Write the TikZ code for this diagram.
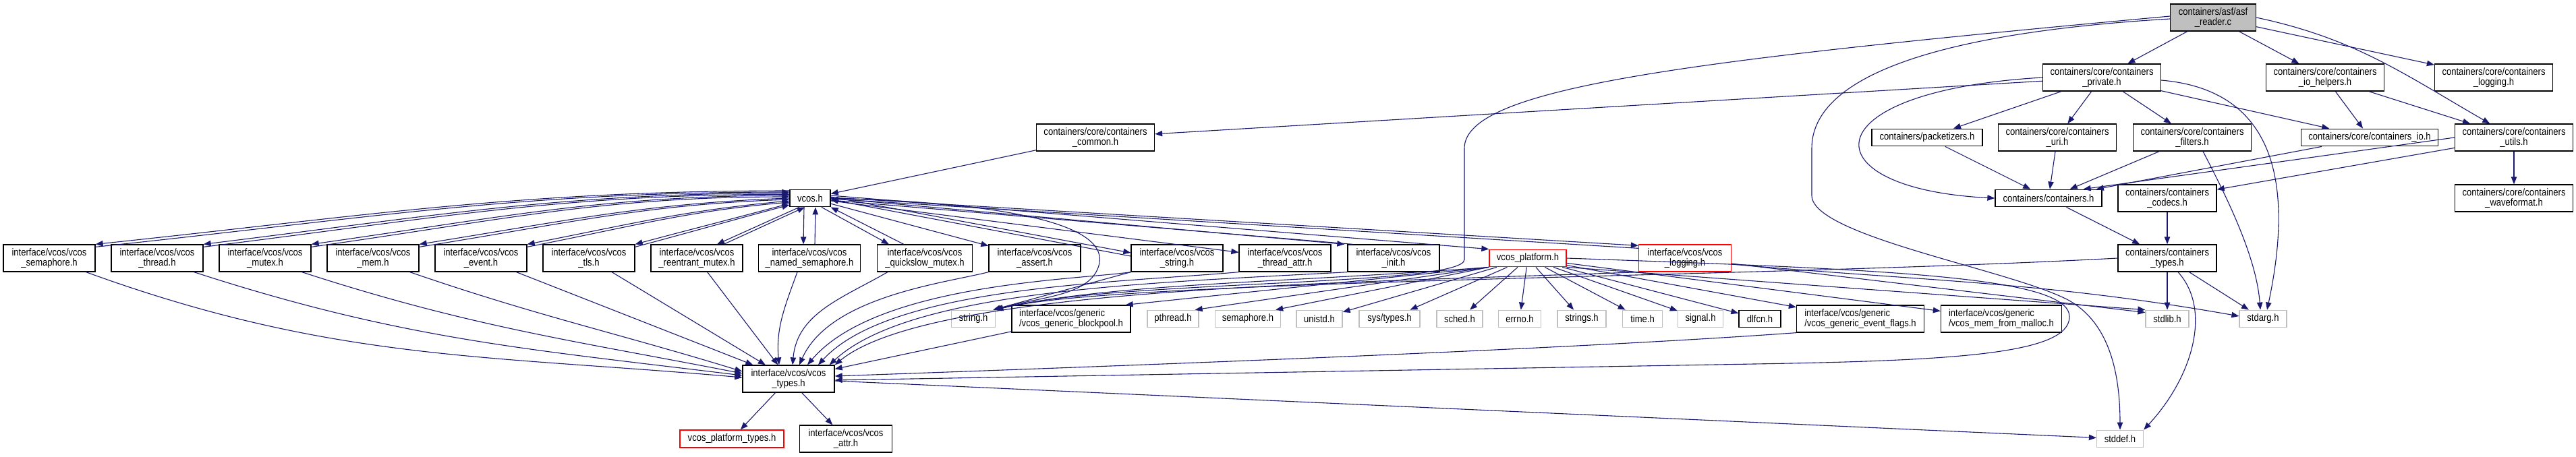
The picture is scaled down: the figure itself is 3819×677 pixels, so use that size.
\documentclass[tikz,border=0pt]{standalone}
\usepackage{fontspec}
\setmainfont{Liberation Sans}[FakeStretch=0.87]
\usepackage{xcolor}
\usetikzlibrary{arrows.meta}
\definecolor{dxblue}{RGB}{25,25,112}
\definecolor{dxgray}{RGB}{191,191,191}

\begin{document}
\begin{tikzpicture}[
        x=0.5pt, y=0.5pt,
        filebox/.style={draw=black, line width=0.65pt, fill=white,
                        font=\fontsize{7.5}{7.5}\selectfont, align=center,
                        inner sep=0pt, minimum height=20pt},
        onebox/.style={filebox, minimum height=12.75pt},
        sysbox/.style={onebox, draw=dxgray},
        redbox/.style={filebox, draw=red},
        rootbox/.style={filebox, fill=dxgray},
        ctr/.style={filebox, minimum width=87.5pt},
        vc/.style={filebox, minimum width=68pt},
        arr/.style={-{Triangle[length=5.5pt,width=4.2pt]}, draw=dxblue, line width=0.55pt}
    ]
        \useasboundingbox (0,0) rectangle (3819,-677);

        % containers
        \node[rootbox, minimum width=63.5pt] (asf) at (3281,-26) {containers/asf/asf\\\_reader.c};
        \node[ctr] (priv)    at (3116,-115) {containers/core/containers\\\_private.h};
        \node[ctr] (iohelp)  at (3447,-115) {containers/core/containers\\\_io\_helpers.h};
        \node[ctr] (clog)    at (3697,-115) {containers/core/containers\\\_logging.h};
        \node[ctr] (common)  at (1624,-204) {containers/core/containers\\\_common.h};
        \node[onebox, minimum width=82pt] (packet) at (2857,-204) {containers/packetizers.h};
        \node[ctr] (uri)     at (3050,-204) {containers/core/containers\\\_uri.h};
        \node[ctr] (filters) at (3250,-204) {containers/core/containers\\\_filters.h};
        \node[onebox, minimum width=101.5pt] (cio) at (3513,-204) {containers/core/containers\_io.h};
        \node[ctr] (utils)   at (3727,-204) {containers/core/containers\\\_utils.h};
        \node[onebox, minimum width=30pt] (vcos) at (1201,-294) {vcos.h};
        \node[onebox, minimum width=79pt] (cont) at (3037,-294) {containers/containers.h};
        \node[filebox, minimum width=73pt] (codecs) at (3213,-294) {containers/containers\\\_codecs.h};
        \node[ctr] (wave)    at (3727,-294) {containers/core/containers\\\_waveformat.h};

        % vcos headers
        \node[vc] (sem)     at (73,-383)   {interface/vcos/vcos\\\_semaphore.h};
        \node[vc] (thread)  at (233,-383)  {interface/vcos/vcos\\\_thread.h};
        \node[vc] (mutex)   at (393,-383)  {interface/vcos/vcos\\\_mutex.h};
        \node[vc] (mem)     at (553,-383)  {interface/vcos/vcos\\\_mem.h};
        \node[vc] (event)   at (713,-383)  {interface/vcos/vcos\\\_event.h};
        \node[vc] (tls)     at (873,-383)  {interface/vcos/vcos\\\_tls.h};
        \node[vc] (reent)   at (1033,-383) {interface/vcos/vcos\\\_reentrant\_mutex.h};
        \node[vc, minimum width=75.5pt] (namedsem) at (1200,-383) {interface/vcos/vcos\\\_named\_semaphore.h};
        \node[vc, minimum width=70.5pt] (qsmutex)  at (1371,-383) {interface/vcos/vcos\\\_quickslow\_mutex.h};
        \node[vc] (assert)  at (1534,-383) {interface/vcos/vcos\\\_assert.h};
        \node[vc] (vstring) at (1745,-383) {interface/vcos/vcos\\\_string.h};
        \node[vc] (thrattr) at (1905,-383) {interface/vcos/vcos\\\_thread\_attr.h};
        \node[vc] (init)    at (2066,-383) {interface/vcos/vcos\\\_init.h};
        \node[redbox, minimum height=12.75pt, minimum width=57pt] (vplat) at (2265,-383) {vcos\_platform.h};
        \node[redbox, minimum width=68.5pt] (vlog) at (2498,-383) {interface/vcos/vcos\\\_logging.h};
        \node[filebox, minimum width=73pt] (ctypes) at (3213,-383) {containers/containers\\\_types.h};

        % system headers
        \node[sysbox, minimum width=32.5pt] (stringh) at (1443,-473) {string.h};
        \node[filebox, minimum width=88pt, align=left] (blockpool) at (1588,-473) {interface/vcos/generic\\/vcos\_generic\_blockpool.h};
        \node[sysbox, minimum width=38pt]   (pthread)  at (1739,-473) {pthread.h};
        \node[sysbox, minimum width=48.5pt] (semh)     at (1850,-473) {semaphore.h};
        \node[sysbox, minimum width=34pt]   (unistd)   at (1956,-473) {unistd.h};
        \node[sysbox, minimum width=45pt]   (systypes) at (2060,-473) {sys/types.h};
        \node[sysbox, minimum width=34pt]   (sched)    at (2164,-473) {sched.h};
        \node[sysbox, minimum width=31.5pt] (errno)    at (2253,-473) {errno.h};
        \node[sysbox, minimum width=36pt]   (strings)  at (2345,-473) {strings.h};
        \node[sysbox, minimum width=29.5pt] (time)     at (2435,-473) {time.h};
        \node[sysbox, minimum width=33.5pt] (signal)   at (2521,-473) {signal.h};
        \node[onebox, minimum width=31pt]   (dlfcn)    at (2609,-473) {dlfcn.h};
        \node[filebox, minimum width=94.5pt, align=left] (evflags) at (2758,-473) {interface/vcos/generic\\/vcos\_generic\_event\_flags.h};
        \node[filebox, minimum width=89.5pt, align=left] (malloc)  at (2967,-473) {interface/vcos/generic\\/vcos\_mem\_from\_malloc.h};
        \node[sysbox, minimum width=32pt]   (stdlib)   at (3213,-473) {stdlib.h};
        \node[sysbox, minimum width=35pt]   (stdarg)   at (3355,-473) {stdarg.h};

        \node[vc] (vtypes) at (1169,-562) {interface/vcos/vcos\\\_types.h};
        \node[redbox, minimum height=13pt, minimum width=77pt] (ptypes) at (1085,-651) {vcos\_platform\_types.h};
        \node[vc, minimum width=68.5pt] (attr) at (1254,-651) {interface/vcos/vcos\\\_attr.h};
        \node[sysbox, minimum width=34.5pt] (stddef) at (3143,-651) {stddef.h};

        % asf_reader.c
        \draw[arr] (asf) -- (priv);
        \draw[arr] (asf) -- (iohelp);
        \draw[arr] (asf) -- (clog);
        \draw[arr] (asf.east) to[out=-12,in=150] (utils);
        \draw[arr] ([yshift=1pt]asf.west) .. controls (2500,-90) and (2171,-130) .. (2171,-220)
            -- (2171,-385) .. controls (2171,-425) and (1650,-415) .. (stringh.north east);
        \draw[arr] ([yshift=-1pt]asf.west) .. controls (2850,-50) and (2686,-120) .. (2686,-220)
            -- (2686,-290) .. controls (2686,-350) and (2980,-400) .. (3066,-445)
            .. controls (3130,-480) and (3143,-560) .. (stddef.north);

        % containers includes
        \draw[arr] (priv) -- (common);
        \draw[arr] (priv.west) .. controls (2680,-135) and (2680,-280) .. (cont.west);
        \draw[arr] (priv) -- (packet);
        \draw[arr] (priv) -- (uri);
        \draw[arr] (priv) -- (filters);
        \draw[arr] (priv) -- (cio);
        \draw[arr] ([yshift=-2pt]priv.east) .. controls (3390,-135) and (3395,-300) .. ([xshift=3pt]stdarg.north);
        \draw[arr] (iohelp) -- (cio);
        \draw[arr] (iohelp) -- (utils);
        \draw[arr] (utils) -- (wave);
        \draw[arr] (utils) -- (codecs);
        \draw[arr] (utils.west) -- ([xshift=-14pt]cont.north east);
        \draw[arr] (cio) -- (cont);
        \draw[arr] (packet) -- (cont);
        \draw[arr] (uri) -- (cont);
        \draw[arr] (filters) -- (cont);
        \draw[arr] ([xshift=8pt]filters.south) .. controls (3300,-290) and (3345,-380) .. ([xshift=-2pt]stdarg.north);
        \draw[arr] (cont) -- (ctypes);
        \draw[arr] (codecs) -- (ctypes);
        \draw[arr] (ctypes) -- (stdlib);
        \draw[arr] (ctypes) -- (stdarg);
        \draw[arr] ([xshift=8pt]ctypes.south) .. controls (3280,-460) and (3250,-560) .. (stddef.north east);
        \draw[arr] (ctypes.west) .. controls (2600,-412) and (1650,-415) .. (stringh.north east);
        \draw[arr] (common) -- (vcos);

        % vcos.h and its headers
        \draw[arr] ([yshift=5.5pt]vcos.west) to[out=180,in=6] (sem.north east);
        \draw[arr] ([yshift=-2pt]sem.north east) to[out=6,in=180] ([yshift=4.5pt]vcos.west);
        \draw[arr] ([yshift=3.8pt]vcos.west) to[out=180,in=7] (thread.north east);
        \draw[arr] ([yshift=-2pt]thread.north east) to[out=7,in=180] ([yshift=2.8pt]vcos.west);
        \draw[arr] ([yshift=2pt]vcos.west) to[out=180,in=8] (mutex.north east);
        \draw[arr] ([yshift=-2pt]mutex.north east) to[out=8,in=180] ([yshift=1pt]vcos.west);
        \draw[arr] ([yshift=0pt]vcos.west) to[out=182,in=9] (mem.north east);
        \draw[arr] ([yshift=-2pt]mem.north east) to[out=9,in=182] ([yshift=-1pt]vcos.west);
        \draw[arr] ([yshift=-2pt]vcos.west) to[out=185,in=11] (event.north east);
        \draw[arr] ([yshift=-2pt]event.north east) to[out=11,in=185] ([yshift=-3pt]vcos.west);
        \draw[arr] ([yshift=-4pt]vcos.west) to[out=195,in=15] (tls.north east);
        \draw[arr] ([yshift=-2pt]tls.north east) to[out=15,in=195] ([yshift=-5pt]vcos.west);
        \draw[arr] ([xshift=-8pt]vcos.south) -- ([xshift=15pt]reent.north);
        \draw[arr] ([xshift=20pt]reent.north) -- ([xshift=-4pt]vcos.south);
        \draw[arr] ([xshift=-4.5pt]vcos.south) -- ([xshift=-4.5pt]namedsem.north);
        \draw[arr] ([xshift=4pt]namedsem.north) -- ([xshift=4pt]vcos.south);
        \draw[arr] ([xshift=8.5pt]vcos.south) -- ([xshift=9pt]qsmutex.north west);
        \draw[arr] ([xshift=20pt]qsmutex.north west) -- (vcos.south east);
        \draw[arr] (vcos) -- (assert);
        \draw[arr] ([yshift=1pt]vcos.east) -- ([yshift=4pt]vstring.west);
        \draw[arr] ([yshift=1.5pt]vstring.west) -- ([yshift=-1pt]vcos.east);
        \draw[arr] (vcos) -- (thrattr);
        \draw[arr] (vcos.east) -- ([xshift=-2pt]init.north west);
        \draw[arr] ([xshift=4pt]init.north west) -- ([yshift=-1.5pt]vcos.east);
        \draw[arr] ([yshift=2pt]vcos.east) -- (vplat.north west);
        \draw[arr] ([yshift=0.5pt]vcos.east) -- ([yshift=-1pt]vlog.north west);
        \draw[arr] ([yshift=-3pt]vlog.north west) -- ([yshift=-0.5pt]vcos.east);
        \draw[arr] (vcos.east) .. controls (1480,-300) and (1640,-330) .. (1630,-390)
            .. controls (1620,-440) and (1540,-440) .. (stringh.north east);

        % into vcos_types.h
        \draw[arr] ([xshift=-7pt]sem.south east) to[out=-20,in=175] ([yshift=1pt]vtypes.west);
        \draw[arr] ([xshift=-7pt]thread.south east) to[out=-18,in=173] ([yshift=2.5pt]vtypes.west);
        \draw[arr] ([xshift=-7pt]mutex.south east) to[out=-18,in=169] ([yshift=4pt]vtypes.west);
        \draw[arr] ([xshift=-7pt]mem.south east) to[out=-19,in=163] ([yshift=5.5pt]vtypes.west);
        \draw[arr] (event) -- (vtypes);
        \draw[arr] (tls) -- (vtypes);
        \draw[arr] (reent) -- (vtypes);
        \draw[arr] ([xshift=-9pt]namedsem.south) to[out=-110,in=95] ([xshift=-7pt]vtypes.north);
        \draw[arr] ([xshift=8pt]qsmutex.south west) to[out=-150,in=85] ([xshift=3pt]vtypes.north);
        \draw[arr] (assert.south west) .. controls (1400,-420) and (1230,-440) .. ([xshift=8pt]vtypes.north);
        \draw[arr] (vstring.south west) .. controls (1600,-415) and (1300,-420) .. ([xshift=14pt]vtypes.north);
        \draw[arr] (thrattr.south west) .. controls (1650,-420) and (1320,-425) .. ([xshift=22pt]vtypes.north);
        \draw[arr] (init.south west) .. controls (1700,-420) and (1350,-430) .. ([xshift=-4pt]vtypes.north east);
        \draw[arr] (vlog.south west) .. controls (2000,-420) and (1380,-425) .. (vtypes.north east);
        \draw[arr] (blockpool) -- (vtypes);
        \draw[arr] (evflags.south west) .. controls (2300,-520) and (1600,-545) .. ([yshift=2pt]vtypes.east);
        \draw[arr] (vplat.east) .. controls (2800,-400) and (3068,-410) .. (3068,-470)
            .. controls (3068,-525) and (2900,-535) .. (2600,-540) -- ([yshift=-1pt]vtypes.east);
        \draw[arr] (vstring.south west) -- ([xshift=-2pt]stringh.north east);

        % vcos_platform.h
        \draw[arr] (vplat.south west) .. controls (1900,-420) and (1650,-420) .. ([xshift=-1pt]stringh.north east);
        \draw[arr] (vplat.south west) -- ([xshift=-4pt]blockpool.north east);
        \draw[arr] (vplat.south west) -- ([xshift=-3pt]pthread.north east);
        \draw[arr] (vplat.south west) -- ([xshift=-4pt]semh.north east);
        \draw[arr] (vplat) -- (unistd);
        \draw[arr] (vplat) -- (systypes);
        \draw[arr] (vplat) -- (sched);
        \draw[arr] (vplat) -- (errno);
        \draw[arr] (vplat) -- (strings);
        \draw[arr] (vplat) -- (time);
        \draw[arr] (vplat) -- (signal);
        \draw[arr] (vplat) -- (dlfcn);
        \draw[arr] (vplat) -- (evflags);
        \draw[arr] (vplat) -- (malloc);
        \draw[arr] (vplat.south east) -- (stdlib.north west);
        \draw[arr] ([yshift=-4pt]vlog.east) -- ([yshift=-2pt]stdlib.north west);
        \draw[arr] ([yshift=-4.5pt]vlog.east) to[out=-5,in=170] ([yshift=2pt]stdarg.west);

        % vcos_types.h
        \draw[arr] (vtypes) -- (ptypes);
        \draw[arr] (vtypes) -- (attr);
        \draw[arr] (vtypes) -- (stddef);
    \end{tikzpicture}
\end{document}
